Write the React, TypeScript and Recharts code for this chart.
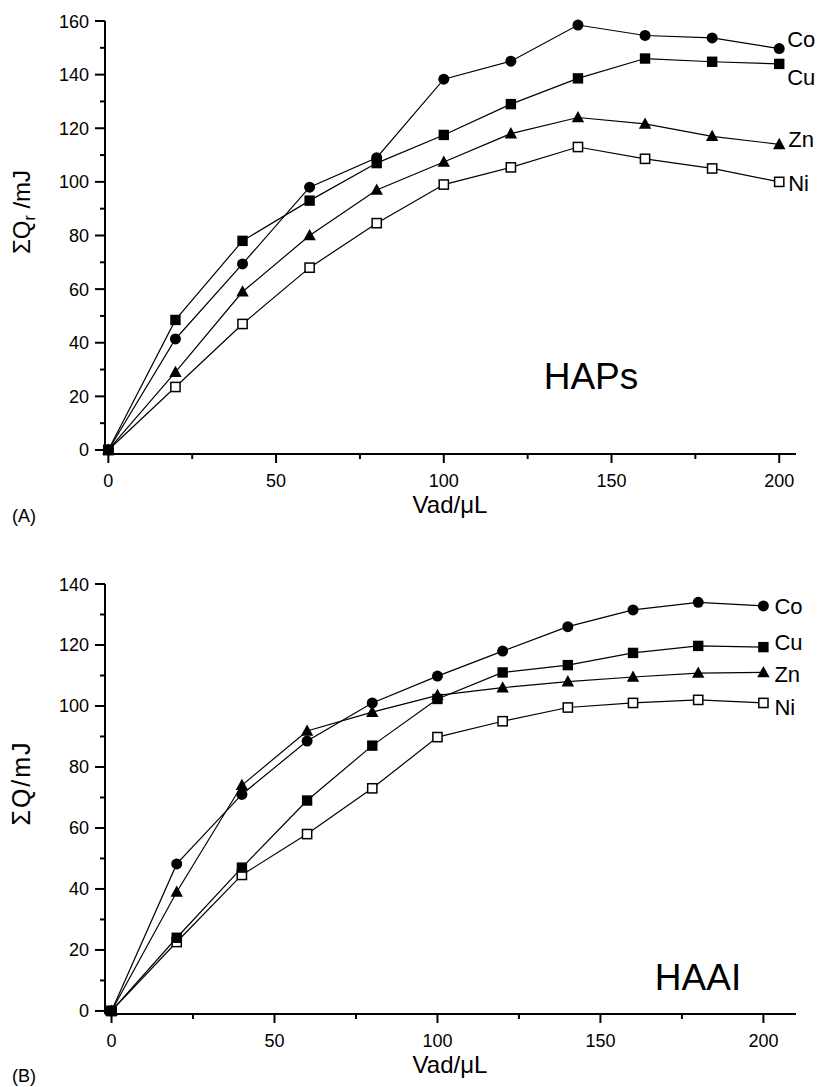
import React from 'react';
import { LineChart, Line, XAxis, YAxis } from 'recharts';

const volumes = [0, 20, 40, 60, 80, 100, 120, 140, 160, 180, 200];

// (A) HAPs
const hapsCo = [0, 41.4, 69.4, 98, 109, 138.3, 145, 158.5, 154.6, 153.7, 149.7];
const hapsCu = [0, 48.5, 78, 93, 107, 117.5, 129, 138.6, 146, 144.8, 144];
const hapsZn = [0, 29, 59, 80, 97, 107.4, 118, 124, 121.6, 117, 114];
const hapsNi = [0, 23.5, 47, 68, 84.6, 99, 105.4, 113, 108.6, 105, 100];

// (B) HAAI
const haaiCo = [0, 48.2, 71, 88.5, 101, 109.8, 118, 126, 131.5, 134, 132.8];
const haaiCu = [0, 24, 47, 69, 87, 102.3, 111, 113.4, 117.4, 119.7, 119.3];
const haaiZn = [0, 39, 74, 91.8, 98, 103.5, 106, 108, 109.5, 110.8, 111];
const haaiNi = [0, 22.6, 44.6, 58, 73, 89.8, 95, 99.5, 101, 102, 101];

const xTicks = [0, 25, 50, 75, 100, 125, 150, 175, 200];
const yTicksA = [0, 10, 20, 30, 40, 50, 60, 70, 80, 90, 100, 110, 120, 130, 140, 150, 160];
const yTicksB = [0, 10, 20, 30, 40, 50, 60, 70, 80, 90, 100, 110, 120, 130, 140];

const FONT = '"Liberation Sans", Arial, Helvetica, sans-serif';
const last = volumes.length - 1;

const hapsData = volumes.map((v, i) => ({ v, Co: hapsCo[i], Cu: hapsCu[i], Zn: hapsZn[i], Ni: hapsNi[i] }));
const haaiData = volumes.map((v, i) => ({ v, Co: haaiCo[i], Cu: haaiCu[i], Zn: haaiZn[i], Ni: haaiNi[i] }));

function XTick({ x, y, payload }: any) {
  const major = payload.value % 50 === 0;
  return (
    <g>
      <line x1={x} y1={y} x2={x} y2={y + (major ? 9 : 5)} stroke="#000" strokeWidth={2} />
      {major && (
        <text x={x} y={y + 32.5} textAnchor="middle" fontSize={18} fontFamily={FONT} fill="#000">
          {payload.value}
        </text>
      )}
    </g>
  );
}

function YTick({ x, y, payload }: any) {
  const major = payload.value % 20 === 0;
  return (
    <g>
      <line x1={x} y1={y} x2={x - (major ? 10 : 5)} y2={y} stroke="#000" strokeWidth={2} />
      {major && (
        <text x={x - 16} y={y + 6.5} textAnchor="end" fontSize={18} fontFamily={FONT} fill="#000">
          {payload.value}
        </text>
      )}
    </g>
  );
}

type Shape = 'circle' | 'square' | 'triangle' | 'open';

function marker(shape: Shape, name: string, dx: number, dy: number) {
  return (props: any) => {
    const { cx, cy, index } = props;
    let mark;
    if (shape === 'circle') mark = <circle cx={cx} cy={cy} r={5.5} fill="#000" />;
    else if (shape === 'square') mark = <rect x={cx - 5.2} y={cy - 5.2} width={10.4} height={10.4} fill="#000" />;
    else if (shape === 'triangle')
      mark = <polygon points={`${cx},${cy - 6.5} ${cx - 6.2},${cy + 4.8} ${cx + 6.2},${cy + 4.8}`} fill="#000" />;
    else mark = <rect x={cx - 4.6} y={cy - 4.6} width={9.2} height={9.2} fill="#fff" stroke="#000" strokeWidth={1.5} />;
    return (
      <g key={`${name}-${index}`}>
        {mark}
        {index === last && (
          <text x={cx + dx} y={cy + dy} fontSize={22} fontFamily={FONT} fill="#000">
            {name}
          </text>
        )}
      </g>
    );
  };
}

const seriesA: [string, Shape, number, number][] = [
  ['Ni', 'open', 9, 9],
  ['Zn', 'triangle', 9, 3],
  ['Cu', 'square', 8, 21],
  ['Co', 'circle', 8, -2],
];
const seriesB: [string, Shape, number, number][] = [
  ['Ni', 'open', 11, 12],
  ['Zn', 'triangle', 11, 9.5],
  ['Cu', 'square', 11, 3],
  ['Co', 'circle', 11, 8],
];

function Panel({ data, series, yDomain, yTicks, xDomain, height, top, xHeight }: any) {
  return (
    <LineChart width={819} height={height} data={data} margin={{ top, right: 23, left: 0, bottom: 0 }}>
      <XAxis
        type="number"
        dataKey="v"
        domain={xDomain}
        ticks={xTicks}
        interval={0}
        tickSize={0}
        tickMargin={0}
        tickLine={false}
        tick={<XTick />}
        height={xHeight}
        axisLine={{ stroke: '#000', strokeWidth: 2 }}
      />
      <YAxis
        type="number"
        domain={yDomain}
        ticks={yTicks}
        interval={0}
        tickSize={0}
        tickMargin={0}
        tickLine={false}
        tick={<YTick />}
        width={105}
        axisLine={{ stroke: '#000', strokeWidth: 2 }}
      />
      {series.map(([name, shape, dx, dy]: [string, Shape, number, number]) => (
        <Line
          key={name}
          type="linear"
          dataKey={name}
          stroke="#000"
          strokeWidth={1.2}
          dot={marker(shape, name, dx, dy)}
          activeDot={false}
          isAnimationActive={false}
        />
      ))}
    </LineChart>
  );
}

export default function App() {
  return (
    <div style={{ position: 'absolute', left: 0, top: 0, width: 819, height: 1087, background: '#fff' }}>
      <div style={{ position: 'absolute', left: 0, top: 0 }}>
        <Panel data={hapsData} series={seriesA} yDomain={[-1.5, 160]} yTicks={yTicksA} xDomain={[-1, 205]} height={500} top={21} xHeight={46} />
      </div>
      <div style={{ position: 'absolute', left: 0, top: 540 }}>
        <Panel data={haaiData} series={seriesB} yDomain={[-1, 140]} yTicks={yTicksB} xDomain={[-2, 210]} height={547} top={44} xHeight={73} />
      </div>
      <svg width={819} height={1087} style={{ position: 'absolute', left: 0, top: 0, pointerEvents: 'none' }} fontFamily={FONT} fill="#000">
        <text x={591} y={389} textAnchor="middle" fontSize={37}>HAPs</text>
        <text x={698} y={990} textAnchor="middle" fontSize={37}>HAAI</text>
        <text x={450} y={513} textAnchor="middle" fontSize={24}>Vad/μL</text>
        <text x={450} y={1073} textAnchor="middle" fontSize={24}>Vad/μL</text>
        <text x={12} y={522} fontSize={18}>(A)</text>
        <text x={12} y={1082} fontSize={18}>(B)</text>
        <text x={30} y={212} textAnchor="middle" fontSize={24} transform="rotate(-90 30 212)">
          ΣQ<tspan fontSize={16} dy={5}>r</tspan><tspan dy={-5}> /mJ</tspan>
        </text>
        <text x={30} y={783} textAnchor="middle" fontSize={25} letterSpacing={2} transform="rotate(-90 30 783)">
          ΣQ/mJ
        </text>
      </svg>
    </div>
  );
}
